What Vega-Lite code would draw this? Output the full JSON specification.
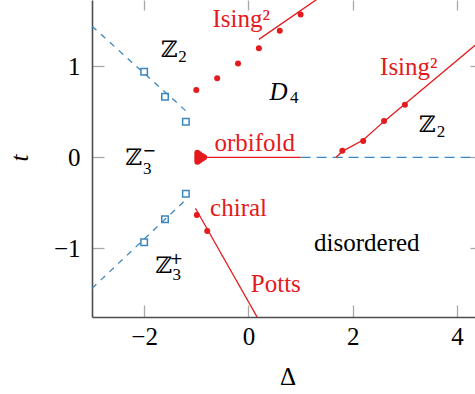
{
  "$schema": "https://vega.github.io/schema/vega-lite/v6.json",
  "autosize": {"type": "none"},
  "padding": {"left": 92, "top": 0, "right": 0, "bottom": 77},
  "width": 383,
  "height": 317,
  "config": {"view": {"stroke": null}, "axis": {"grid": false}},
  "datasets": {
    "lines": [
      {"series": "ising_up", "kind": "solid", "x": 0.2, "y": 1.296},
      {"series": "ising_up", "kind": "solid", "x": 1.6, "y": 1.85},
      {"series": "ising_right", "kind": "solid", "x": 1.68, "y": 0.0},
      {"series": "ising_right", "kind": "solid", "x": 1.8, "y": 0.065},
      {"series": "ising_right", "kind": "solid", "x": 2.2, "y": 0.19},
      {"series": "ising_right", "kind": "solid", "x": 2.6, "y": 0.395},
      {"series": "ising_right", "kind": "solid", "x": 3.0, "y": 0.585},
      {"series": "ising_right", "kind": "solid", "x": 4.6, "y": 1.353},
      {"series": "orbifold", "kind": "solid", "x": -0.9, "y": 0.0},
      {"series": "orbifold", "kind": "solid", "x": 1.0, "y": 0.0},
      {"series": "potts", "kind": "solid", "x": -1.017, "y": -0.56},
      {"series": "potts", "kind": "solid", "x": 0.25, "y": -1.84},
      {"series": "z2", "kind": "hdashed", "x": 1.0, "y": 0.0},
      {"series": "z2", "kind": "hdashed", "x": 4.6, "y": 0.0},
      {"series": "upper", "kind": "dashed", "x": -3.0, "y": 1.44},
      {"series": "upper", "kind": "dashed", "x": -1.16, "y": 0.49},
      {"series": "lower", "kind": "dashed", "x": -3.0, "y": -1.44},
      {"series": "lower", "kind": "dashed", "x": -1.19, "y": -0.46}
    ],
    "points": [
      {"x": -1.0, "y": 0.74}, {"x": -0.6, "y": 0.868}, {"x": -0.2, "y": 1.03},
      {"x": 0.2, "y": 1.2}, {"x": 0.6, "y": 1.39}, {"x": 1.0, "y": 1.57},
      {"x": 1.8, "y": 0.073}, {"x": 2.2, "y": 0.18}, {"x": 2.6, "y": 0.4}, {"x": 3.0, "y": 0.578},
      {"x": -0.99, "y": -0.634}, {"x": -0.79, "y": -0.81},
      {"x": -0.98, "y": 0.05}, {"x": -0.98, "y": 0.025}, {"x": -0.98, "y": 0.0},
      {"x": -0.98, "y": -0.025}, {"x": -0.98, "y": -0.05},
      {"x": -0.94, "y": 0.035}, {"x": -0.94, "y": 0.0}, {"x": -0.94, "y": -0.035},
      {"x": -0.89, "y": 0.015}, {"x": -0.89, "y": -0.015}, {"x": -0.85, "y": 0.0}
    ],
    "squares": [
      {"x": -2.0, "y": 0.94}, {"x": -1.6, "y": 0.666}, {"x": -1.2, "y": 0.39},
      {"x": -1.2, "y": -0.4}, {"x": -1.6, "y": -0.68}, {"x": -2.0, "y": -0.934}
    ],
    "redLabels": [
      {"label": "Ising²", "x": -0.14, "y": 1.435},
      {"label": "Ising²", "x": 3.075, "y": 0.904},
      {"label": "orbifold", "x": 0.12, "y": 0.073},
      {"label": "chiral", "x": -0.19, "y": -0.65},
      {"label": "Potts", "x": 0.525, "y": -1.477}
    ],
    "blackLabels": [
      {"label": "disordered", "x": 2.27, "y": -1.026}
    ],
    "italicLabels": [
      {"label": "D", "x": 0.579, "y": 0.629}
    ],
    "bbLabels": [
      {"label": "ℤ", "x": -1.52, "y": 1.105},
      {"label": "ℤ", "x": 3.427, "y": 0.281},
      {"label": "ℤ", "x": -2.201, "y": -0.085},
      {"label": "ℤ", "x": -1.626, "y": -1.275}
    ],
    "scripts": [
      {"label": "2", "x": -1.266, "y": 1.051},
      {"label": "2", "x": 3.69, "y": 0.226},
      {"label": "3", "x": -1.942, "y": -0.187},
      {"label": "3", "x": -1.377, "y": -1.348},
      {"label": "4", "x": 0.876, "y": 0.593}
    ],
    "signs": [
      {"label": "−", "x": -1.904, "y": 0.018},
      {"label": "+", "x": -1.386, "y": -1.173}
    ]
  },
  "resolve": {"axis": {"x": "independent", "y": "independent"}},
  "layer": [
    {
      "data": {"name": "lines"},
      "transform": [{"filter": "datum.kind === 'dashed'"}],
      "mark": {"type": "line", "clip": true, "color": "#3a86c0", "strokeWidth": 1.3, "strokeDash": [6, 6]},
      "encoding": {
        "x": {"field": "x", "type": "quantitative", "scale": {"domain": [-3, 4.344], "nice": false, "zero": false},
          "axis": {"orient": "bottom", "values": [-2, 0, 2, 4], "tickSize": -12, "tickColor": "#a8a8a8", "tickWidth": 1.3,
            "domainColor": "#4d4d4d", "domainWidth": 1.6, "labelFont": "Times New Roman", "labelFontSize": 25,
            "labelColor": "#000000", "labelBaseline": "alphabetic", "labelPadding": 39, "labelOverlap": false, "labelFlush": false,
            "title": "Δ", "titleFont": "Times New Roman", "titleFontSize": 25, "titleFontWeight": "normal", "titleColor": "#000000",
            "titleX": 195.5, "titleY": 67, "titleBaseline": "alphabetic", "titleAlign": "center"}},
        "y": {"field": "y", "type": "quantitative", "scale": {"domain": [-1.755, 1.729], "nice": false, "zero": false},
          "axis": {"orient": "left", "values": [-1, 0, 1], "tickSize": -12, "tickColor": "#a8a8a8", "tickWidth": 1.3,
            "domainColor": "#4d4d4d", "domainWidth": 1.6, "labelFont": "Times New Roman", "labelFontSize": 25,
            "labelColor": "#000000", "labelPadding": 24, "labelOverlap": false, "labelFlush": false,
            "title": "t", "titleFont": "Times New Roman", "titleFontSize": 25, "titleFontWeight": "normal", "titleFontStyle": "italic",
            "titleColor": "#000000", "titleX": -65, "titleY": 157.5, "titleAngle": 270, "titleBaseline": "alphabetic", "titleAlign": "center"}},
        "detail": {"field": "series"}
      }
    },
    {
      "data": {"name": "lines"},
      "transform": [{"filter": "datum.kind === 'hdashed'"}],
      "mark": {"type": "line", "clip": true, "color": "#3a86c0", "strokeWidth": 1.3, "strokeDash": [10, 6]},
      "encoding": {
        "x": {"field": "x", "type": "quantitative", "axis": null},
        "y": {"field": "y", "type": "quantitative", "axis": null},
        "detail": {"field": "series"}
      }
    },
    {
      "data": {"name": "lines"},
      "transform": [{"filter": "datum.kind === 'solid'"}],
      "mark": {"type": "line", "clip": true, "color": "#e41a1c", "strokeWidth": 1.3},
      "encoding": {
        "x": {"field": "x", "type": "quantitative",
          "axis": {"orient": "top", "values": [-2, 0, 2, 4], "tickSize": -10, "tickColor": "#a8a8a8", "tickWidth": 1.3,
            "domain": false, "labels": false, "title": null}},
        "y": {"field": "y", "type": "quantitative",
          "axis": {"orient": "right", "values": [-1, 0, 1], "tickSize": -5, "tickColor": "#a8a8a8", "tickWidth": 1.3,
            "domain": false, "labels": false, "title": null}},
        "detail": {"field": "series"}
      }
    },
    {
      "data": {"name": "squares"},
      "mark": {"type": "point", "shape": "square", "filled": false, "color": "#3a86c0", "strokeWidth": 1.5, "size": 42, "opacity": 1},
      "encoding": {
        "x": {"field": "x", "type": "quantitative", "axis": null},
        "y": {"field": "y", "type": "quantitative", "axis": null}
      }
    },
    {
      "data": {"name": "points"},
      "mark": {"type": "circle", "color": "#e41a1c", "size": 36, "opacity": 1},
      "encoding": {
        "x": {"field": "x", "type": "quantitative", "axis": null},
        "y": {"field": "y", "type": "quantitative", "axis": null}
      }
    },
    {
      "data": {"name": "redLabels"},
      "mark": {"type": "text", "font": "Times New Roman", "fontSize": 25, "color": "#e41a1c", "align": "center", "baseline": "alphabetic"},
      "encoding": {
        "x": {"field": "x", "type": "quantitative", "axis": null},
        "y": {"field": "y", "type": "quantitative", "axis": null},
        "text": {"field": "label"}
      }
    },
    {
      "data": {"name": "blackLabels"},
      "mark": {"type": "text", "font": "Times New Roman", "fontSize": 25, "color": "#000000", "align": "center", "baseline": "alphabetic"},
      "encoding": {
        "x": {"field": "x", "type": "quantitative", "axis": null},
        "y": {"field": "y", "type": "quantitative", "axis": null},
        "text": {"field": "label"}
      }
    },
    {
      "data": {"name": "italicLabels"},
      "mark": {"type": "text", "font": "Times New Roman", "fontSize": 25, "fontStyle": "italic", "color": "#000000", "align": "center", "baseline": "alphabetic"},
      "encoding": {
        "x": {"field": "x", "type": "quantitative", "axis": null},
        "y": {"field": "y", "type": "quantitative", "axis": null},
        "text": {"field": "label"}
      }
    },
    {
      "data": {"name": "bbLabels"},
      "mark": {"type": "text", "font": "DejaVu Serif", "fontSize": 23, "color": "#000000", "align": "center", "baseline": "alphabetic"},
      "encoding": {
        "x": {"field": "x", "type": "quantitative", "axis": null},
        "y": {"field": "y", "type": "quantitative", "axis": null},
        "text": {"field": "label"}
      }
    },
    {
      "data": {"name": "scripts"},
      "mark": {"type": "text", "font": "Times New Roman", "fontSize": 17, "color": "#000000", "align": "center", "baseline": "alphabetic"},
      "encoding": {
        "x": {"field": "x", "type": "quantitative", "axis": null},
        "y": {"field": "y", "type": "quantitative", "axis": null},
        "text": {"field": "label"}
      }
    },
    {
      "data": {"name": "signs"},
      "mark": {"type": "text", "font": "DejaVu Sans", "fontSize": 16, "color": "#000000", "align": "center", "baseline": "alphabetic"},
      "encoding": {
        "x": {"field": "x", "type": "quantitative", "axis": null},
        "y": {"field": "y", "type": "quantitative", "axis": null},
        "text": {"field": "label"}
      }
    }
  ]
}
